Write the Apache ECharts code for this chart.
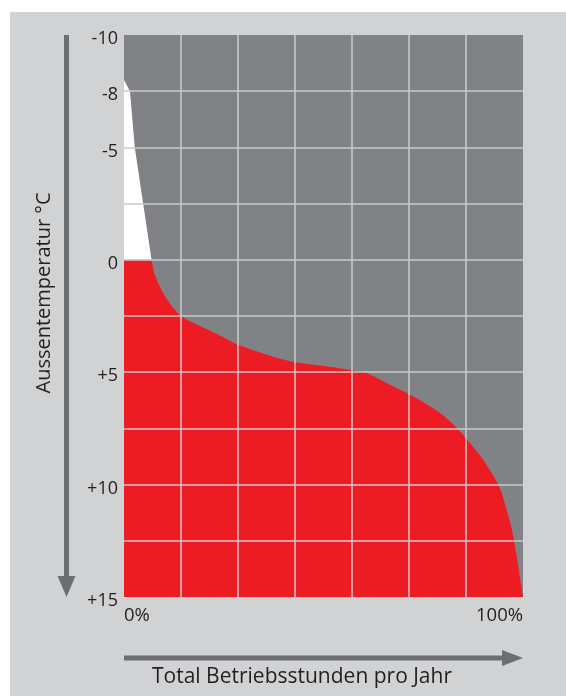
<!DOCTYPE html>
<html>
<head>
<meta charset="utf-8">
<script src="https://cdn.jsdelivr.net/npm/echarts@6/dist/echarts.min.js"></script>
<style>
html,body{margin:0;padding:0;background:#ffffff;}
#c{width:566px;height:696px;}
</style>
</head>
<body>
<div id="c"></div>
<script>
// Red area: top edge at 0 °C, then boundary curve (share of annual operating hours % vs outside temperature °C)
var redFlatX = [0, 6.9, 7.3];
var redFlatT = [0, 0, 0.44];
var redX = [6.9, 7.3, 8.6, 10.3, 12.4, 14.5, 17.4, 20.7, 24.9, 28.6, 35.8, 43.0, 50.8, 57.3, 60.8, 65.8, 71.7, 79.2, 83.4, 86.7, 90.0, 93.8, 95.5, 97.2, 98.4, 100];
var redT = [0, 0.44, 1.04, 1.63, 2.15, 2.52, 2.81, 3.08, 3.44, 3.78, 4.22, 4.56, 4.74, 4.92, 5.04, 5.48, 6.0, 6.81, 7.48, 8.15, 8.89, 10.0, 10.89, 12.0, 13.19, 15];
// White area boundary
var whiteX = [0, 0.5, 1.5, 2.7, 4.8, 6.9];
var whiteT = [-8, -8, -7.5, -5, -2.5, 0];
// Tick labels of the temperature axis
var yTickValues = [-10, -7.5, -5, 0, 5, 10, 15];
var yTickTexts = ['-10', '-8', '-5', '0', '+5', '+10', '+15'];
var xTickTexts = {0: '0%', 100: '100%'};

var FONT = 'Open Sans';
var TEXT = '#231f20';
var ARROW = '#6d6e71';

function pairs(xs, ys) { return xs.map(function (x, i) { return [x, ys[i]]; }); }

var chart = echarts.init(document.getElementById('c'), null, {renderer: 'canvas'});

var option = {
  animation: false,
  backgroundColor: '#ffffff',
  grid: {left: 124, top: 35, right: 43, bottom: 99, show: true, backgroundColor: '#808285', borderWidth: 0},
  xAxis: {
    type: 'value', min: 0, max: 100, interval: 100 / 7, z: 10,
    axisLine: {show: false}, axisTick: {show: false},
    splitLine: {show: true, showMinLine: false, showMaxLine: false, lineStyle: {color: '#c9cacc', width: 1.5}},
    axisLabel: {
      margin: 9, fontFamily: FONT, fontSize: 18.5, color: TEXT,
      alignMinLabel: 'left', alignMaxLabel: 'right',
      formatter: function (v) { var k = Math.round(v); return Math.abs(v - k) < 1e-6 && xTickTexts[k] ? xTickTexts[k] : ''; }
    }
  },
  yAxis: {
    type: 'value', inverse: true, min: -10, max: 15, interval: 2.5, z: 10,
    axisLine: {show: false}, axisTick: {show: false},
    splitLine: {show: true, showMinLine: false, showMaxLine: false, lineStyle: {color: '#c9cacc', width: 1.5}},
    axisLabel: {
      margin: 6, color: TEXT,
      rich: {v: {fontFamily: FONT, fontSize: 18, color: TEXT, padding: [8, 0, 0, 0]}},
      formatter: function (v) {
        for (var i = 0; i < yTickValues.length; i++) { if (Math.abs(yTickValues[i] - v) < 1e-6) return '{v|' + yTickTexts[i] + '}'; }
        return '';
      }
    }
  },
  series: [
    {
      type: 'line', data: pairs(whiteX, whiteT), showSymbol: false, silent: true, z: 2,
      lineStyle: {width: 0}, areaStyle: {color: '#ffffff', opacity: 1, origin: 'end'}
    },
    {
      type: 'line', data: pairs(redFlatX, redFlatT), showSymbol: false, silent: true, z: 3,
      lineStyle: {width: 0}, areaStyle: {color: '#ed1c24', opacity: 1, origin: 'end'}
    },
    {
      type: 'line', data: pairs(redX, redT), showSymbol: false, silent: true, z: 3,
      smooth: 0.35,
      lineStyle: {width: 0}, areaStyle: {color: '#ed1c24', opacity: 1, origin: 'end'}
    }
  ]
};
chart.setOption(option);

// Decorations placed from the grid's pixel extent
var tl = chart.convertToPixel({gridIndex: 0}, [0, -10]);
var br = chart.convertToPixel({gridIndex: 0}, [100, 15]);
var ax = 66.5, ay = 658;
chart.setOption({
  graphic: [
    {type: 'rect', z: -10, shape: {x: 10, y: 12, width: 556, height: 684}, style: {fill: '#d1d2d4'}},
    {type: 'rect', z: 1, shape: {x: ax - 2.5, y: tl[1], width: 5, height: br[1] - tl[1] - 18}, style: {fill: ARROW}},
    {type: 'polygon', z: 1, shape: {points: [[ax - 9, br[1] - 21], [ax + 9, br[1] - 21], [ax, br[1]]]}, style: {fill: ARROW}},
    {type: 'rect', z: 1, shape: {x: tl[0], y: ay - 2.5, width: br[0] - tl[0] - 18, height: 5}, style: {fill: ARROW}},
    {type: 'polygon', z: 1, shape: {points: [[br[0] - 21, ay - 8], [br[0] - 21, ay + 8], [br[0], ay]]}, style: {fill: ARROW}},
    {type: 'text', z: 1, x: 44, y: 293, rotation: Math.PI / 2,
      style: {text: 'Aussentemperatur °C', fill: TEXT, font: '20px "' + FONT + '"', textAlign: 'center', textVerticalAlign: 'middle'}},
    {type: 'text', z: 1, x: 302, y: 677,
      style: {text: 'Total Betriebsstunden pro Jahr', fill: TEXT, font: '21px "' + FONT + '"', textAlign: 'center', textVerticalAlign: 'middle'}}
  ]
});
</script>
</body>
</html>
